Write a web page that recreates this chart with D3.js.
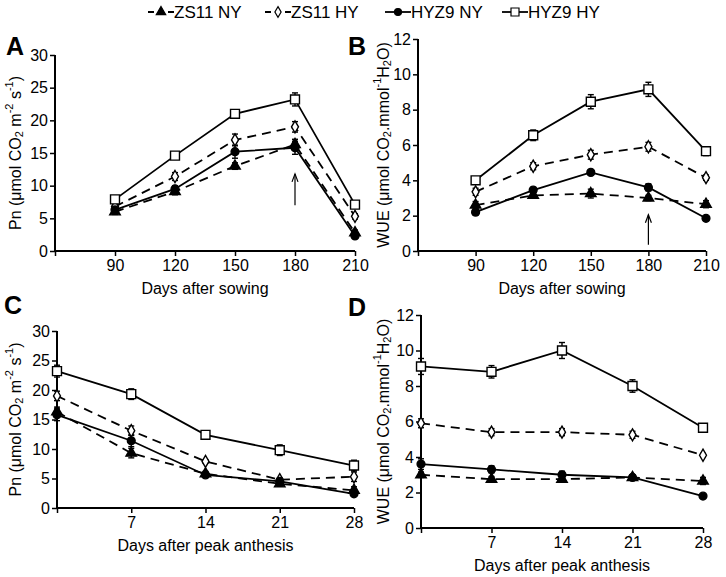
<!DOCTYPE html>
<html>
<head>
<meta charset="utf-8">
<script src="https://cdn.jsdelivr.net/npm/d3@7"></script>
<style>
  html, body { margin: 0; padding: 0; background: #fff; }
  svg text { font-family: "Liberation Sans", Arial, sans-serif; fill: #000; }
</style>
</head>
<body>
<svg id="chart" width="726" height="577"></svg>
<script>
// ---------- data ----------
const seriesNames = ["ZS11 NY", "ZS11 HY", "HYZ9 NY", "HYZ9 HY"];
const daysAfterSowing = [90, 120, 150, 180, 210];
const daysAfterAnthesis = [0, 7, 14, 21, 28];
const sowingTicks = [60, 90, 120, 150, 180, 210];
const anthesisTicks = [0, 7, 14, 21, 28];
const pnTicks = [0, 5, 10, 15, 20, 25, 30];
const wueTicks = [0, 2, 4, 6, 8, 10, 12];

// Panel A: Pn vs days after sowing
const pnSow_ZS11NY = [6.0, 9.1, 13.0, 16.3, 2.8];
const pnSow_ZS11HY = [6.8, 11.4, 17.0, 19.0, 5.3];
const pnSow_HYZ9NY = [6.3, 9.5, 15.2, 15.8, 2.3];
const pnSow_HYZ9HY = [7.9, 14.6, 21.0, 23.2, 7.1];
const pnSowErr_ZS11NY = [0.4, 0.5, 0.5, 0.8, 0.4];
const pnSowErr_ZS11HY = [0.5, 0.6, 0.9, 0.8, 0.4];
const pnSowErr_HYZ9NY = [0.5, 0.5, 1.0, 1.0, 0.3];
const pnSowErr_HYZ9HY = [0.5, 0.3, 0.3, 1.0, 0.4];

// Panel B: WUE vs days after sowing
const wueSow_ZS11NY = [2.6, 3.15, 3.25, 3.0, 2.65];
const wueSow_ZS11HY = [3.35, 4.8, 5.45, 5.9, 4.15];
const wueSow_HYZ9NY = [2.2, 3.45, 4.45, 3.6, 1.85];
const wueSow_HYZ9HY = [4.0, 6.55, 8.45, 9.15, 5.65];
const wueSowErr_ZS11NY = [0.2, 0.15, 0.25, 0.15, 0.2];
const wueSowErr_ZS11HY = [0.2, 0.2, 0.25, 0.25, 0.15];
const wueSowErr_HYZ9NY = [0.15, 0.15, 0.1, 0.2, 0.1];
const wueSowErr_HYZ9HY = [0.2, 0.3, 0.4, 0.4, 0.25];

// Panel C: Pn vs days after peak anthesis
const pnAnt_ZS11NY = [16.3, 9.3, 5.8, 4.1, 3.0];
const pnAnt_ZS11HY = [19.0, 13.1, 7.9, 4.8, 5.3];
const pnAnt_HYZ9NY = [15.8, 11.4, 5.6, 4.5, 2.4];
const pnAnt_HYZ9HY = [23.2, 19.3, 12.4, 9.8, 7.2];
const pnAntErr_ZS11NY = [0.8, 0.8, 0.4, 0.4, 0.6];
const pnAntErr_ZS11HY = [0.8, 0.8, 0.3, 0.3, 0.8];
const pnAntErr_HYZ9NY = [1.0, 1.0, 0.4, 0.4, 0.3];
const pnAntErr_HYZ9HY = [1.0, 0.9, 0.5, 0.9, 0.9];

// Panel D: WUE vs days after peak anthesis
const wueAnt_ZS11NY = [3.0, 2.75, 2.75, 2.85, 2.65];
const wueAnt_ZS11HY = [5.9, 5.4, 5.4, 5.25, 4.1];
const wueAnt_HYZ9NY = [3.6, 3.3, 3.0, 2.85, 1.8];
const wueAnt_HYZ9HY = [9.1, 8.8, 10.0, 8.0, 5.65];
const wueAntErr_ZS11NY = [0.15, 0.15, 0.15, 0.15, 0.2];
const wueAntErr_ZS11HY = [0.25, 0.2, 0.2, 0.2, 0.1];
const wueAntErr_HYZ9NY = [0.3, 0.2, 0.2, 0.15, 0.08];
const wueAntErr_HYZ9HY = [0.45, 0.35, 0.45, 0.35, 0.2];

// Arrows marking peak anthesis (panels A, B)
const arrowDay = 180;
const arrowPn = [7.0, 11.8];
const arrowWue = [0.35, 2.05];

// ---------- style ----------
const styles = {
  "ZS11 NY": { dash: "9,6", marker: "triangle", fill: "#000" },
  "ZS11 HY": { dash: "9,6", marker: "diamond", fill: "#fff" },
  "HYZ9 NY": { dash: null, marker: "circle", fill: "#000" },
  "HYZ9 HY": { dash: null, marker: "square", fill: "#fff" }
};
const symbolSize = { triangle: 48, diamond: 42, circle: 48, square: 80 };
const symbolType = { triangle: d3.symbolTriangle, diamond: d3.symbolDiamond, circle: d3.symbolCircle, square: d3.symbolSquare };

const svg = d3.select("#chart");
svg.append("rect").attr("width", 726).attr("height", 577).attr("fill", "#fff");

const panels = [
  { id: "A", x: daysAfterSowing, xDom: [60, 210], xr: [55, 355], yDom: [0, 30], yr: [251, 55],
    xTicks: sowingTicks, yTicks: pnTicks, hideX: 60, kind: "pn", xTitle: "Days after sowing",
    series: [pnSow_ZS11NY, pnSow_ZS11HY, pnSow_HYZ9NY, pnSow_HYZ9HY],
    errs: [pnSowErr_ZS11NY, pnSowErr_ZS11HY, pnSowErr_HYZ9NY, pnSowErr_HYZ9HY],
    arrow: arrowPn, letter: [6, 55], ytx: 15 },
  { id: "B", x: daysAfterSowing, xDom: [60, 210], xr: [418, 706], yDom: [0, 12], yr: [251, 39],
    xTicks: sowingTicks, yTicks: wueTicks, hideX: 60, kind: "wue", xTitle: "Days after sowing",
    series: [wueSow_ZS11NY, wueSow_ZS11HY, wueSow_HYZ9NY, wueSow_HYZ9HY],
    errs: [wueSowErr_ZS11NY, wueSowErr_ZS11HY, wueSowErr_HYZ9NY, wueSowErr_HYZ9HY],
    arrow: arrowWue, letter: [348, 55], ytx: 383 },
  { id: "C", x: daysAfterAnthesis, xDom: [0, 28], xr: [57, 354], yDom: [0, 30], yr: [508, 331],
    xTicks: anthesisTicks, yTicks: pnTicks, hideX: 0, kind: "pn", xTitle: "Days after peak anthesis",
    series: [pnAnt_ZS11NY, pnAnt_ZS11HY, pnAnt_HYZ9NY, pnAnt_HYZ9HY],
    errs: [pnAntErr_ZS11NY, pnAntErr_ZS11HY, pnAntErr_HYZ9NY, pnAntErr_HYZ9HY],
    arrow: null, letter: [4, 314], ytx: 15 },
  { id: "D", x: daysAfterAnthesis, xDom: [0, 28], xr: [421, 703], yDom: [0, 12], yr: [528, 315],
    xTicks: anthesisTicks, yTicks: wueTicks, hideX: 0, kind: "wue", xTitle: "Days after peak anthesis",
    series: [wueAnt_ZS11NY, wueAnt_ZS11HY, wueAnt_HYZ9NY, wueAnt_HYZ9HY],
    errs: [wueAntErr_ZS11NY, wueAntErr_ZS11HY, wueAntErr_HYZ9NY, wueAntErr_HYZ9HY],
    arrow: null, letter: [348, 316], ytx: 383 }
];

function yTitle(g, kind, x, y) {
  const t = g.append("text").attr("transform", `translate(${x},${y}) rotate(-90)`)
    .attr("text-anchor", "middle").attr("dominant-baseline", "central").attr("font-size", 16);
  if (kind === "pn") {
    t.append("tspan").text("Pn (\u03bcmol CO");
    t.append("tspan").text("2").attr("font-size", 11).attr("dy", 4);
    t.append("tspan").text(" m").attr("dy", -4);
    t.append("tspan").text("-2").attr("font-size", 11).attr("dy", -6);
    t.append("tspan").text(" s").attr("dy", 6);
    t.append("tspan").text("-1").attr("font-size", 11).attr("dy", -6);
    t.append("tspan").text(")").attr("dy", 6);
  } else {
    t.append("tspan").text("WUE (\u03bcmol CO");
    t.append("tspan").text("2").attr("font-size", 11).attr("dy", 4);
    t.append("tspan").text(".mmol").attr("dy", -4);
    t.append("tspan").text("-1").attr("font-size", 11).attr("dy", -6);
    t.append("tspan").text("H").attr("dy", 6);
    t.append("tspan").text("2").attr("font-size", 11).attr("dy", 4);
    t.append("tspan").text("O)").attr("dy", -4);
  }
}

panels.forEach(p => {
  const g = svg.append("g");
  const xs = d3.scaleLinear().domain(p.xDom).range(p.xr);
  const ys = d3.scaleLinear().domain(p.yDom).range(p.yr);

  // axes
  const xAxis = d3.axisBottom(xs).tickValues(p.xTicks).tickSize(5).tickPadding(4)
    .tickFormat(d => d === p.hideX ? "" : d);
  const yAxis = d3.axisLeft(ys).tickValues(p.yTicks).tickSize(5).tickPadding(2);
  const gx = g.append("g").attr("transform", `translate(0,${p.yr[0]})`).call(xAxis);
  const gy = g.append("g").attr("transform", `translate(${p.xr[0]},0)`).call(yAxis);
  [gx, gy].forEach(a => {
    a.select(".domain").attr("stroke", "#000").attr("stroke-width", 2);
    a.selectAll(".tick line").attr("stroke", "#000").attr("stroke-width", 1.5);
    a.selectAll(".tick text").attr("font-size", 16).attr("font-family", '"Liberation Sans", Arial, sans-serif').attr("fill", "#000");
  });
  gx.select(".domain").attr("d", `M${p.xr[0]},0H${p.xr[1]}`);
  gy.select(".domain").attr("d", `M0,${p.yr[0]}V${p.yr[1]}`);

  // titles
  g.append("text").attr("x", (p.xr[0] + p.xr[1]) / 2).attr("y", p.yr[0] + 43)
    .attr("text-anchor", "middle").attr("font-size", 16).text(p.xTitle);
  yTitle(g, p.kind, p.ytx, (p.yr[0] + p.yr[1]) / 2);
  g.append("text").attr("x", p.letter[0]).attr("y", p.letter[1])
    .attr("font-size", 25).attr("font-weight", "bold").text(p.id);

  // lines
  const line = d3.line().x((d, i) => xs(p.x[i])).y(d => ys(d));
  p.series.forEach((vals, si) => {
    const st = styles[seriesNames[si]];
    g.append("path").datum(vals).attr("d", line).attr("fill", "none")
      .attr("stroke", "#000").attr("stroke-width", 1.8)
      .attr("stroke-dasharray", st.dash);
  });
  // error bars
  p.series.forEach((vals, si) => {
    const er = p.errs[si];
    const eg = g.append("g").attr("stroke", "#000").attr("stroke-width", 1.4);
    vals.forEach((v, i) => {
      const cx = xs(p.x[i]);
      eg.append("line").attr("x1", cx).attr("x2", cx).attr("y1", ys(v - er[i])).attr("y2", ys(v + er[i]));
      [v - er[i], v + er[i]].forEach(e => eg.append("line")
        .attr("x1", cx - 3).attr("x2", cx + 3).attr("y1", ys(e)).attr("y2", ys(e)));
    });
  });
  // markers
  p.series.forEach((vals, si) => {
    const st = styles[seriesNames[si]];
    const sym = d3.symbol().type(symbolType[st.marker]).size(symbolSize[st.marker]);
    g.selectAll(null).data(vals).enter().append("path")
      .attr("d", sym)
      .attr("transform", (d, i) => `translate(${xs(p.x[i])},${ys(d)})`)
      .attr("fill", st.fill).attr("stroke", "#000").attr("stroke-width", 1.4);
  });
  // arrow
  if (p.arrow) {
    const ax = xs(arrowDay), yb = ys(p.arrow[0]), yt = ys(p.arrow[1]);
    const ag = g.append("g").attr("stroke", "#000").attr("stroke-width", 1.2).attr("fill", "none");
    ag.append("line").attr("x1", ax).attr("x2", ax).attr("y1", yb).attr("y2", yt);
    ag.append("path").attr("d", `M${ax - 3},${yt + 8}L${ax},${yt}L${ax + 3},${yt + 8}`);
  }
});

// ---------- legend ----------
const legendX = [148, 265, 385, 502];
const lg = svg.append("g");
seriesNames.forEach((name, i) => {
  const st = styles[name];
  const x0 = legendX[i], y0 = 12;
  lg.append("line").attr("x1", x0).attr("x2", x0 + 26).attr("y1", y0).attr("y2", y0)
    .attr("stroke", "#000").attr("stroke-width", 1.8)
    .attr("stroke-dasharray", st.dash ? "6,4" : null);
  lg.append("path").attr("d", d3.symbol().type(symbolType[st.marker]).size(symbolSize[st.marker] * 0.8))
    .attr("transform", `translate(${x0 + 13},${y0})`)
    .attr("fill", st.fill).attr("stroke", "#000").attr("stroke-width", 1.2);
  lg.append("text").attr("x", x0 + 26).attr("y", y0 + 6).attr("font-size", 17).text(name);
});
</script>
</body>
</html>
